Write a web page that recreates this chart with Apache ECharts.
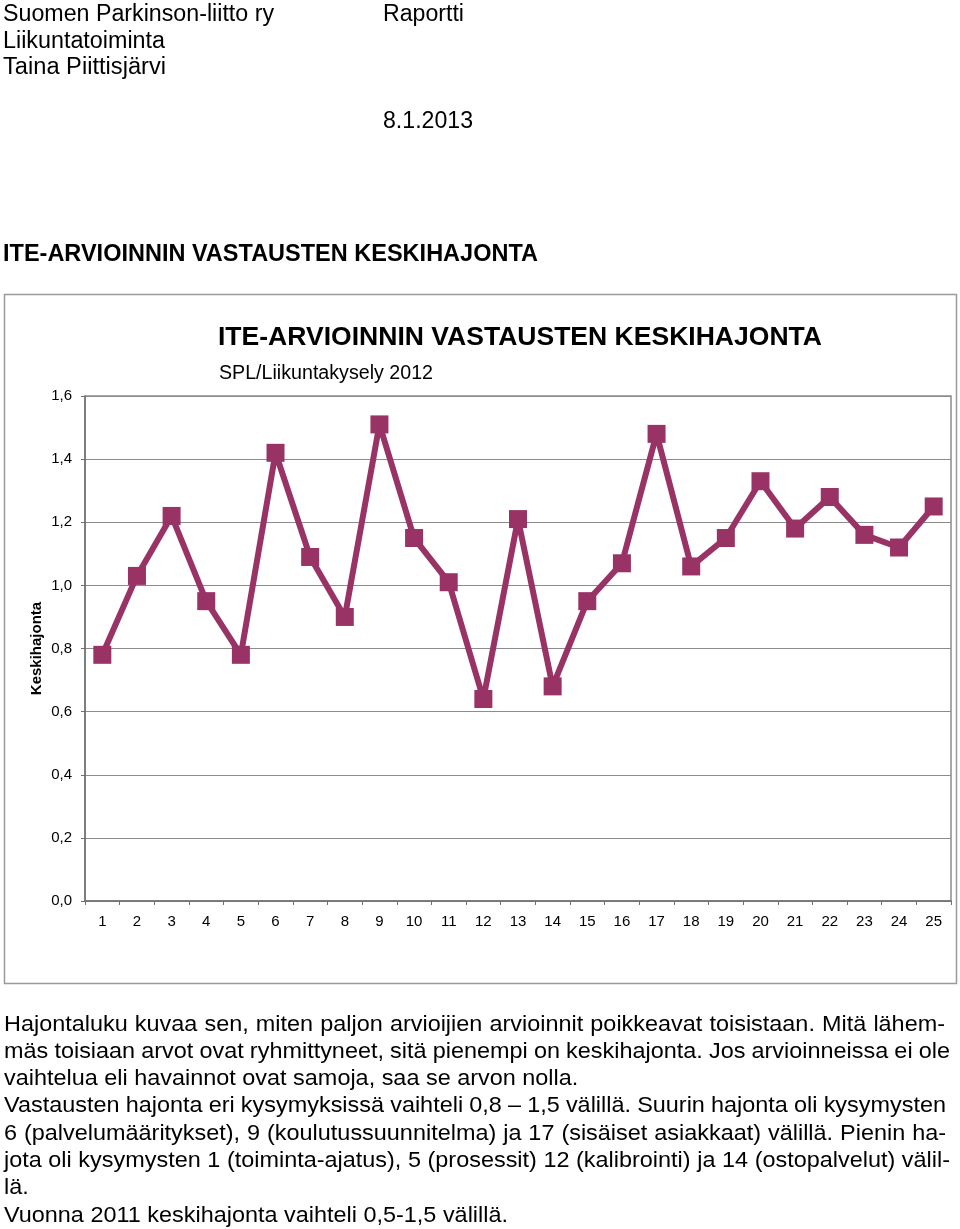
<!DOCTYPE html>
<html>
<head>
<meta charset="utf-8">
<script src="https://cdn.jsdelivr.net/npm/echarts@6/dist/echarts.min.js"></script>
<style>
  html,body{margin:0;padding:0;background:#fff;}
  #chart{position:absolute;left:0;top:0;width:960px;height:1229px;}
  .t{position:absolute;white-space:nowrap;transform-origin:0 0;color:#000;font-family:"Liberation Sans",Arial,sans-serif;line-height:1;}
</style>
</head>
<body>
<div id="chart"></div>
<script>
// ---- data ----
const categories = ['1','2','3','4','5','6','7','8','9','10','11','12','13','14','15','16','17','18','19','20','21','22','23','24','25'];
const keskihajonta = [0.78,1.03,1.22,0.95,0.78,1.42,1.09,0.90,1.51,1.15,1.01,0.64,1.21,0.68,0.95,1.07,1.48,1.06,1.15,1.33,1.18,1.28,1.16,1.12,1.25];
const yTicks = {min:0, max:1.6, interval:0.2};
const chartTitle = 'ITE-ARVIOINNIN VASTAUSTEN KESKIHAJONTA';
const chartSubtitle = 'SPL/Liikuntakysely 2012';
const yAxisName = 'Keskihajonta';

const headerLines = ['Suomen Parkinson-liitto ry','Liikuntatoiminta','Taina Piittisjärvi','Raportti','8.1.2013'];
const pageTitle = 'ITE-ARVIOINNIN VASTAUSTEN KESKIHAJONTA';
const bodyLines = [
  'Hajontaluku kuvaa sen, miten paljon arvioijien arvioinnit poikkeavat toisistaan. Mitä lähem-',
  'mäs toisiaan arvot ovat ryhmittyneet, sitä pienempi on keskihajonta. Jos arvioinneissa ei ole',
  'vaihtelua eli havainnot ovat samoja, saa se arvon nolla.',
  'Vastausten hajonta eri kysymyksissä vaihteli 0,8 – 1,5 välillä. Suurin hajonta oli kysymysten',
  '6 (palvelumääritykset), 9 (koulutussuunnitelma) ja 17 (sisäiset asiakkaat) välillä. Pienin ha-',
  'jota oli kysymysten 1 (toiminta-ajatus), 5 (prosessit) 12 (kalibrointi) ja 14 (ostopalvelut) välil-',
  'lä.',
  'Vuonna 2011 keskihajonta vaihteli 0,5-1,5 välillä.'
];

// ---- layout of HTML text ----
function makeDiv(text, left, cy, fs, bold){
  const d = document.createElement('div');
  d.className = 't';
  d.textContent = text;
  d.style.left = left + 'px';
  d.style.top = (cy - fs*0.49) + 'px';
  d.style.fontSize = fs + 'px';
  if (bold) d.style.fontWeight = 'bold';
  document.body.appendChild(d);
  return d;
}
function placeFit(text, left, cy, fs, width, bold){
  const d = makeDiv(text, left, cy, fs, bold);
  const w = d.getBoundingClientRect().width;
  if (width && w > 0) d.style.transform = 'scaleX(' + (width / w) + ')';
}
placeFit(headerLines[0], 3, 13, 23, 271);
placeFit(headerLines[1], 3, 40, 23, 162);
placeFit(headerLines[2], 3, 66, 23, 163);
placeFit(headerLines[3], 383, 13, 23, 81);
placeFit(headerLines[4], 383, 120, 23, 90);
placeFit(pageTitle, 3, 253, 23, 535, true);

// body: common horizontal scale (from last line), justified lines widen word spaces
const bodyY = [1024,1051,1078,1105,1133,1160,1187,1215];
const bodyW = [941,946,571,942,942,946,18,504];
const bodyJustify = [true,true,false,true,true,true,false,false];
const bodyFs = 22;
const divs = bodyLines.map((s,i)=>makeDiv(s, 4, bodyY[i], bodyFs, false));
const refW = divs[7].getBoundingClientRect().width;
const s = bodyW[7] / refW;
divs.forEach((d,i)=>{
  if (bodyJustify[i]) {
    const w = d.getBoundingClientRect().width;
    const spaces = (bodyLines[i].match(/ /g) || []).length;
    d.style.wordSpacing = ((bodyW[i]/s - w) / spaces) + 'px';
  }
  d.style.transform = 'scaleX(' + s + ')';
});

// ---- chart ----
const ctx = document.createElement('canvas').getContext('2d');
function fitScale(text, font, target){ ctx.font = font; return target / ctx.measureText(text).width; }
const titleFont = 'bold 26px "Liberation Sans", Arial, sans-serif';
const subFont = '19.5px "Liberation Sans", Arial, sans-serif';

const chart = echarts.init(document.getElementById('chart'), null, {renderer:'canvas'});
chart.setOption({
  animation:false,
  backgroundColor:'#fff',
  graphic:[
    {type:'rect', shape:{x:4.5,y:294.5,width:952,height:689}, style:{fill:'none', stroke:'#9a9a9a', lineWidth:1.5}, z:-1},
    {type:'text', x:218, y:338, scaleX: fitScale(chartTitle, titleFont, 604), style:{text:chartTitle, font:titleFont, fill:'#000', textVerticalAlign:'middle'}},
    {type:'text', x:219, y:374, scaleX: fitScale(chartSubtitle, subFont, 214), style:{text:chartSubtitle, font:subFont, fill:'#000', textVerticalAlign:'middle'}}
  ],
  grid:{left:85, top:396, right:9, bottom:328, show:true, borderColor:'#8c8c8c', borderWidth:1.5, backgroundColor:'transparent'},
  xAxis:{
    type:'category', data:categories, boundaryGap:true,
    axisLine:{lineStyle:{color:'#707070', width:1.5}},
    axisTick:{show:true, inside:false, length:4, lineStyle:{color:'#707070'}},
    axisLabel:{color:'#000', fontSize:15, margin:13, fontFamily:'Liberation Sans'}
  },
  yAxis:{
    type:'value', min:yTicks.min, max:yTicks.max, interval:yTicks.interval,
    name:yAxisName, nameLocation:'middle', nameGap:41, nameRotate:90, nameMoveOverlap:false,
    nameTextStyle:{fontWeight:'bold', fontSize:15, color:'#000', fontFamily:'Liberation Sans'},
    axisLine:{show:true, lineStyle:{color:'#707070', width:1.5}},
    axisTick:{show:true, inside:false, length:4, lineStyle:{color:'#707070'}},
    splitLine:{show:true, lineStyle:{color:'#8c8c8c', width:1.2}},
    axisLabel:{color:'#000', fontSize:15, margin:13, fontFamily:'Liberation Sans',
      formatter:v=>v.toFixed(1).replace('.',',')}
  },
  series:[{
    type:'line', data:keskihajonta,
    symbol:'rect', symbolSize:18,
    lineStyle:{color:'#993366', width:6},
    itemStyle:{color:'#993366'},
    z:3
  }]
});
</script>
</body>
</html>
